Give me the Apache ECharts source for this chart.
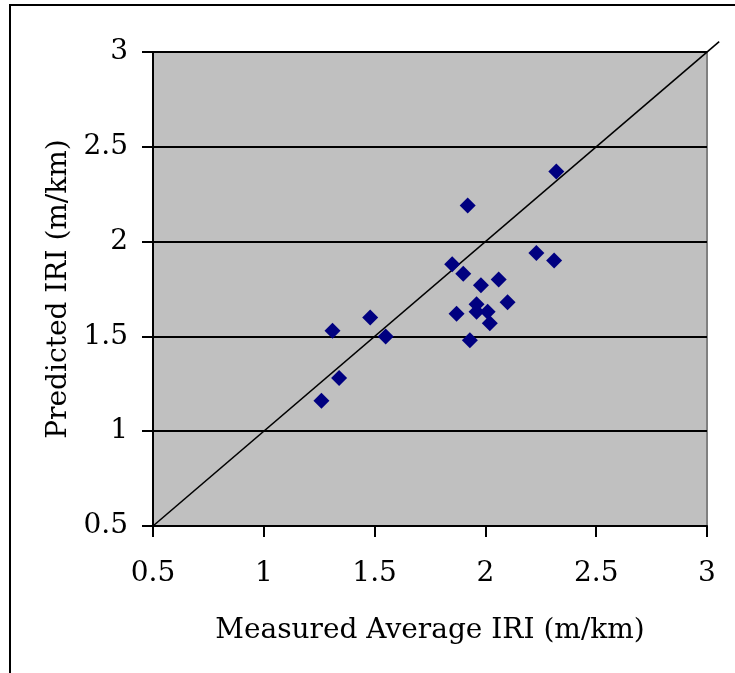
<!DOCTYPE html>
<html>
<head>
<meta charset="utf-8">
<script src="https://cdn.jsdelivr.net/npm/echarts@6/dist/echarts.min.js"></script>
<style>
html,body{margin:0;padding:0;background:#fff;}
#chart{width:735px;height:673px;}
</style>
</head>
<body>
<div id="chart"></div>
<script>
// Measured average IRI (m/km) and predicted IRI (m/km)
var measured  = [1.26, 1.31, 1.34, 1.48, 1.55, 1.85, 1.87, 1.90, 1.92, 1.93, 1.96, 1.96, 1.98, 2.01, 2.02, 2.06, 2.10, 2.23, 2.31, 2.32];
var predicted = [1.16, 1.53, 1.28, 1.60, 1.50, 1.88, 1.62, 1.83, 2.19, 1.48, 1.67, 1.63, 1.77, 1.63, 1.57, 1.80, 1.68, 1.94, 1.90, 2.37];
// 1:1 equality line end points
var lineX = [0.5, 3.055];
var lineY = [0.5, 3.055];
var xTitle = 'Measured Average IRI (m/km)';
var yTitle = 'Predicted IRI (m/km)';

var scatterData = measured.map(function (v, i) { return [v, predicted[i]]; });

var font = 'DejaVu Serif';
var chart = echarts.init(document.getElementById('chart'), null, {renderer: 'canvas'});
var frame = {
  id: 'frame',
  type: 'rect',
  shape: {x: 10, y: 5, width: 900, height: 900},
  style: {fill: 'none', stroke: '#000', lineWidth: 2},
  silent: true,
  z: 100
};
chart.setOption({
  animation: false,
  backgroundColor: '#ffffff',
  graphic: [frame],
  grid: {
    left: 153, right: 28, top: 52, bottom: 147,
    show: true, backgroundColor: '#c0c0c0', borderColor: '#808080', borderWidth: 2
  },
  xAxis: {
    type: 'value', min: 0.5, max: 3, interval: 0.5,
    name: xTitle, nameLocation: 'middle', nameGap: 91,
    nameTextStyle: {fontFamily: font, fontSize: 28, color: '#000'},
    axisLine: {show: true, onZero: false, lineStyle: {color: '#000', width: 2}},
    axisTick: {show: true, length: 11, lineStyle: {color: '#000', width: 2}},
    axisLabel: {margin: 34, fontFamily: font, fontSize: 28, color: '#000'},
    splitLine: {show: false}
  },
  yAxis: {
    type: 'value', min: 0.5, max: 3, interval: 0.5,
    name: yTitle, nameLocation: 'middle', nameGap: 74,
    nameTextStyle: {fontFamily: font, fontSize: 28, color: '#000'},
    axisLine: {show: true, onZero: false, lineStyle: {color: '#000', width: 2}},
    axisTick: {show: true, length: 11, lineStyle: {color: '#000', width: 2}},
    axisLabel: {margin: 25, fontFamily: font, fontSize: 28, color: '#000'},
    splitLine: {show: true, lineStyle: {color: '#000', width: 2}}
  },
  series: [{
    type: 'scatter',
    data: scatterData,
    symbol: 'diamond',
    symbolSize: 16,
    itemStyle: {color: '#000080', opacity: 1},
    z: 3
  }]
});

// 1:1 line placed through the chart's own axis scales (extends past the plot corner)
var p0 = chart.convertToPixel({gridIndex: 0}, [lineX[0], lineY[0]]);
var p1 = chart.convertToPixel({gridIndex: 0}, [lineX[1], lineY[1]]);
chart.setOption({
  graphic: [frame, {
    id: 'diag',
    type: 'line',
    shape: {x1: p0[0], y1: p0[1], x2: p1[0], y2: p1[1]},
    style: {stroke: '#000', lineWidth: 1.6},
    silent: true,
    z: 2
  }]
});
</script>
</body>
</html>
